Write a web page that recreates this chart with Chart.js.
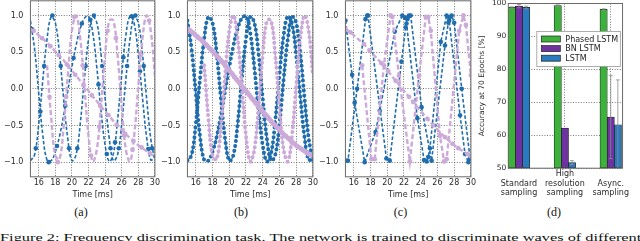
<!DOCTYPE html>
<html>
<head>
<meta charset="utf-8">
<script src="https://cdn.jsdelivr.net/npm/chart.js@4"></script>
<style>
  html, body { margin: 0; padding: 0; background: #fff; }
  body { width: 640px; height: 241px; position: relative; overflow: hidden; }
  canvas { position: absolute; }
  .sub { position: absolute; top: 206px; width: 40px; margin-left: -20px; text-align: center;
         font: 12px/1 "Liberation Serif", serif; color: #111; }
  #caption { position: absolute; left: 0; top: 232px; white-space: nowrap;
             font: 11px/1 "Liberation Serif", serif; color: #111; transform-origin: 0 0; }
</style>
</head>
<body>
<canvas id="cA"></canvas>
<canvas id="cB"></canvas>
<canvas id="cC"></canvas>
<canvas id="cD"></canvas>
<div class="sub" style="left:81px">(a)</div>
<div class="sub" style="left:241px">(b)</div>
<div class="sub" style="left:400.5px">(c)</div>
<div class="sub" style="left:554px">(d)</div>
<div id="caption">Figure 2: Frequency discrimination task. The network is trained to discriminate waves of different</div>
<script>
// ---- wave traces (time in ms, amplitude) ----
const curveT = [15, 15.5, 16, 16.5, 17, 17.5, 18, 18.5, 19, 19.5, 20, 20.5, 21, 21.5, 22, 22.5,
                23, 23.5, 24, 24.5, 25, 25.5, 26, 26.5, 27, 27.5, 28, 28.5, 29, 29.5, 30];
const blueA = [-0.98, -0.90, -0.48, 0.13, 0.68, 0.98, 0.90, 0.48, -0.13, -0.68, -0.98, -0.90, -0.48, 0.13, 0.68, 0.98,
               0.90, 0.48, -0.13, -0.68, -0.98, -0.90, -0.48, 0.13, 0.68, 0.98, 0.90, 0.48, -0.13, -0.68, -0.98];
const blueB = [0.93, 0.54, -0.06, -0.64, -0.97, -0.98, -0.86, -0.65, -0.36, -0.03, 0.30, 0.59, 0.82, 0.96, 0.99, 0.77,
               0.29, -0.29, -0.77, -0.99, -0.88, -0.43, 0.19, 0.73, 0.99, 0.89, 0.46, -0.12, -0.66, -0.97, -0.93];
const lilacFast = [null, null, null, null, 0.32, -0.39, -0.91, -0.96, -0.52, 0.18, 0.79, 1.00, 0.69, 0.04, -0.64, -0.99,
                   -0.83, -0.25, 0.46, 0.93, 0.93, 0.46, -0.25, -0.83, -0.99, -0.64, 0.04, 0.69, 1.00, 0.79, 0.18];
const lilacSlow = [0.82, 0.78, 0.73, 0.68, 0.63, 0.57, 0.51, 0.45, 0.39, 0.32, 0.25, 0.18, 0.11, 0.04, -0.03, -0.10,
                   -0.17, -0.24, -0.31, -0.37, -0.44, -0.50, -0.56, -0.62, -0.67, -0.72, -0.77, -0.81, -0.85, -0.89, -0.92];

// (a) samples every 1 ms
const aBlueAT = [15.65, 16.65, 17.65, 18.65, 19.65, 20.65, 21.65, 22.65, 23.65, 24.65, 25.65, 26.65, 27.65, 28.65, 29.65];
const aBlueAV = [-0.81, 0.31, 1.00, 0.31, -0.81, -0.81, 0.31, 1.00, 0.31, -0.81, -0.81, 0.31, 1.00, 0.31, -0.81];
const aBlueBT = [15.2, 16.2, 17.2, 18.2, 19.2, 20.2, 21.2, 22.2, 23.2, 24.2, 25.2, 26.2, 27.2, 28.2, 29.2];
const aBlueBV = [0.81, -0.31, -1.00, -0.78, -0.23, 0.42, 0.89, 0.94, 0.06, -0.89, -0.73, 0.43, 0.99, 0.24, -0.82];
const aLilacFastT = [17.3, 18.3, 19.3, 20.3, 21.3, 22.3, 23.3, 24.3, 25.3, 26.3, 27.3, 28.3, 29.3];
const aLilacFastV = [-0.11, -1.00, -0.11, 0.98, 0.32, -0.91, -0.52, 0.79, 0.69, -0.64, -0.83, 0.46, 0.93];
const aLilacSlowT = [15.4, 16.4, 17.4, 18.4, 19.4, 20.4, 21.4, 22.4, 23.4, 24.4, 25.4, 26.4, 27.4, 28.4, 29.4];
const aLilacSlowV = [0.79, 0.69, 0.58, 0.46, 0.33, 0.19, 0.05, -0.09, -0.23, -0.36, -0.49, -0.61, -0.71, -0.80, -0.88];

// (c) asynchronous samples
const cBlueAT = [15.0, 15.3, 16.4, 17.4, 17.6, 17.7, 19.9, 20.3, 21.7, 22.2, 22.4, 22.5, 22.6, 22.8, 24.1, 25.3, 26.9, 27.3, 27.5, 27.7, 28.0, 28.9, 29.9];
const cBlueAV = [-0.98, -0.98, 0.00, 0.95, 1.00, 1.00, -0.95, -0.98, 0.37, 0.84, 0.95, 0.98, 1.00, 1.00, -0.25, -0.98, 0.59, 0.90, 0.98, 1.00, 0.90, 0.00, -0.95];
const cBlueBT = [15.0, 15.8, 16.1, 17.3, 18.6, 19.1, 20.9, 21.8, 22.1, 22.3, 23.6, 24.4, 24.7, 24.9, 25.1, 26.4, 27.1, 27.4, 28.7, 29.3, 29.7, 30.0];
const cBlueBV = [0.93, 0.19, -0.19, -1.00, -0.59, -0.30, 0.78, 1.00, 0.97, 0.89, -0.40, -0.97, -0.99, -0.93, -0.81, 0.64, 1.00, 0.93, -0.36, -0.89, -1.00, -0.93];
const cLilacFastT = [17.0, 18.1, 18.5, 19.6, 20.4, 20.6, 21.4, 22.7, 23.8, 24.6, 24.9, 25.2, 26.3, 26.8, 27.1, 28.6, 29.1, 29.4, 30.0];
const cLilacFastV = [0.32, -0.96, -0.96, 0.32, 1.00, 0.98, 0.18, -0.99, 0.18, 0.98, 0.98, 0.79, -0.64, -0.99, -0.96, 0.79, 1.00, 0.87, 0.18];
const cLilacSlowT = [15.0, 15.6, 17.2, 17.9, 19.3, 20.1, 21.0, 22.6, 23.1, 24.8, 25.5, 26.9, 27.8, 28.5, 29.6, 30.0];
const cLilacSlowV = [0.82, 0.77, 0.61, 0.52, 0.35, 0.24, 0.11, -0.11, -0.18, -0.41, -0.50, -0.66, -0.75, -0.81, -0.89, -0.92];

const timeTicks = [16, 18, 20, 22, 24, 26, 28, 30];
const timeTickText = ['16', '18', '20', '22', '24', '26', '28', '30'];
const ampTicks = [-1, -0.5, 0, 0.5, 1];
const ampTickText = ['\u22121.0', '\u22120.5', '0.0', '0.5', '1.0'];

// ---- (d) accuracy at 70 epochs ----
const groupLabels = [['', 'Standard', 'sampling'], ['High', 'resolution', 'sampling'], ['', 'Async.', 'sampling']];
const modelNames = ['Phased LSTM', 'BN LSTM', 'LSTM'];
const phasedAcc = [98.8, 99.4, 98.2];
const phasedErr = [0.2, 0.2, 0.2];
const bnAcc = [99.2, 62.2, 65.5];
const bnErr = [0.5, 0.0, 12.6];
const lstmAcc = [98.8, 51.7, 63.2];
const lstmErr = [0.4, 0.6, 13.6];
const accTicks = [50, 60, 70, 80, 90, 100];

const BLUE = '#1f6dad', LILAC = '#cbaad9';
const GREEN = '#3cb23c', PURPLE = '#6e33a0', LBLUE = '#2a7abf';

Chart.defaults.font.family = '"DejaVu Sans", sans-serif';
Chart.defaults.font.size = 8;
Chart.defaults.color = '#2a2a2a';
Chart.defaults.animation = false;
Chart.defaults.events = [];
Chart.defaults.plugins.legend.display = false;
Chart.defaults.plugins.tooltip.enabled = false;

const pts = (ts, vs) => ts.map((t, i) => ({ x: t, y: vs[i] }));

const frame = {
  id: 'frame',
  afterDraw(c) {
    const { ctx, chartArea: a } = c;
    ctx.save();
    ctx.strokeStyle = '#6a6a6a';
    ctx.lineWidth = 1;
    ctx.strokeRect(a.left, a.top, a.right - a.left, a.bottom - a.top);
    ctx.restore();
  }
};

function waveScales() {
  const grid = { color: '#555', lineWidth: 0.8, drawTicks: false };
  return {
    x: {
      type: 'linear', min: 15, max: 30, offset: false,
      afterBuildTicks: s => { s.ticks = timeTicks.map(v => ({ value: v })); },
      ticks: { callback: (v, i) => timeTickText[i], padding: 1, autoSkip: false, maxRotation: 0, minRotation: 0 },
      grid, border: { display: false, dash: [1, 1.6] },
      title: { display: true, text: 'Time [ms]', padding: { top: 2, bottom: 0 } }
    },
    y: {
      type: 'linear', min: -1.2, max: 1.2,
      afterBuildTicks: s => { s.ticks = ampTicks.map(v => ({ value: v })); },
      ticks: { callback: (v, i) => ampTickText[i], padding: 7, autoSkip: false },
      grid, border: { display: false, dash: [1, 1.6] }
    }
  };
}

const dashed = (data, color, w, dash, tension) => ({
  data, borderColor: color, borderWidth: w, borderDash: dash, pointRadius: 0, tension, fill: false
});
const dots = (data, color, r) => ({
  data, showLine: false, pointRadius: r, pointBackgroundColor: color, pointBorderWidth: 0, borderColor: color
});
const beads = (data, color, w, gap) => ({
  data, borderColor: color, borderWidth: w, borderDash: [0, gap], borderCapStyle: 'round',
  pointRadius: 0, tension: 0.4, fill: false
});

function place(id, config, box) {
  const cv = document.getElementById(id);
  cv.width = box.w + 60; cv.height = box.h + 60;
  let chart = new Chart(cv, config);
  let ca = chart.chartArea;
  const w = Math.round(cv.width + box.w - (ca.right - ca.left));
  const h = Math.round(cv.height + box.h - (ca.bottom - ca.top));
  chart.destroy();
  cv.width = w; cv.height = h;
  chart = new Chart(cv, config);
  ca = chart.chartArea;
  cv.style.left = (box.x - ca.left) + 'px';
  cv.style.top = (box.y - ca.top) + 'px';
  return chart;
}

// (a) regular sampling
place('cA', {
  type: 'line',
  data: { datasets: [
    dots(pts(aLilacSlowT, aLilacSlowV), LILAC, 2.4),
    dots(pts(aLilacFastT, aLilacFastV), LILAC, 2.4),
    dashed(pts(curveT, lilacSlow), LILAC, 2.4, [5, 2.5], 0.4),
    dashed(pts(curveT, lilacFast), LILAC, 2.4, [5, 2.5], 0.4),
    dots(pts(aBlueAT, aBlueAV), BLUE, 2.3),
    dots(pts(aBlueBT, aBlueBV), BLUE, 2.3),
    dashed(pts(curveT, blueA), BLUE, 1.6, [3.5, 2], 0.4),
    dashed(pts(curveT, blueB), BLUE, 1.6, [3.5, 2], 0.4)
  ] },
  options: { responsive: false, maintainAspectRatio: false, scales: waveScales() },
  plugins: [frame]
}, { x: 30.7, y: 0.5, w: 124.5, h: 175.5 });

// (b) high resolution sampling
place('cB', {
  type: 'line',
  data: { datasets: [
    beads(pts(curveT, lilacSlow), LILAC, 5, 2.4),
    beads(pts(curveT, lilacFast), LILAC, 4, 5),
    dashed(pts(curveT, lilacFast), LILAC, 1.4, [4, 2], 0.4),
    beads(pts(curveT, blueA), BLUE, 4, 5),
    beads(pts(curveT, blueB), BLUE, 4, 5),
    dashed(pts(curveT, blueA), BLUE, 1.4, [3.5, 2], 0.4),
    dashed(pts(curveT, blueB), BLUE, 1.4, [3.5, 2], 0.4)
  ] },
  options: { responsive: false, maintainAspectRatio: false, scales: waveScales() },
  plugins: [frame]
}, { x: 187.7, y: 0.5, w: 125, h: 175.5 });

// (c) asynchronous sampling
const asyncLine = (data, color, w, dash, r) => ({
  data, borderColor: color, borderWidth: w, borderDash: dash, tension: 0, fill: false,
  pointRadius: r, pointBackgroundColor: color, pointBorderWidth: 0
});
place('cC', {
  type: 'line',
  data: { datasets: [
    asyncLine(pts(cLilacSlowT, cLilacSlowV), LILAC, 2.4, [5, 2.5], 2.4),
    asyncLine(pts(cLilacFastT, cLilacFastV), LILAC, 2.4, [5, 2.5], 2.4),
    asyncLine(pts(cBlueAT, cBlueAV), BLUE, 1.6, [3.5, 2], 2.3),
    asyncLine(pts(cBlueBT, cBlueBV), BLUE, 1.6, [3.5, 2], 2.3)
  ] },
  options: { responsive: false, maintainAspectRatio: false, scales: waveScales() },
  plugins: [frame]
}, { x: 345.7, y: 0.5, w: 125, h: 175.5 });

// (d) bar chart
const barOffset = [0.0775, 0.2325, 0.3875];
const barSets = [
  { vals: phasedAcc, err: phasedErr, color: GREEN },
  { vals: bnAcc, err: bnErr, color: PURPLE },
  { vals: lstmAcc, err: lstmErr, color: LBLUE }
];

const errorBars = {
  id: 'errorBars',
  afterDatasetsDraw(c) {
    const { ctx, chartArea: a, scales: { x, y } } = c;
    ctx.save();
    ctx.beginPath();
    ctx.rect(a.left, a.top, a.right - a.left, a.bottom - a.top);
    ctx.clip();
    ctx.strokeStyle = '#8c8c8c';
    ctx.lineWidth = 0.8;
    c.data.datasets.forEach(ds => {
      ds.data.forEach((p, i) => {
        const e = ds.errs[i];
        if (!e) return;
        const px = x.getPixelForValue(p.x);
        const t = y.getPixelForValue(p.y + e), b = y.getPixelForValue(p.y - e);
        ctx.beginPath();
        ctx.moveTo(px, t); ctx.lineTo(px, b);
        ctx.moveTo(px - 2, t); ctx.lineTo(px + 2, t);
        ctx.moveTo(px - 2, b); ctx.lineTo(px + 2, b);
        ctx.stroke();
      });
    });
    ctx.restore();
  }
};

const legendBox = {
  id: 'legendBox',
  afterDraw(c) {
    const { ctx, chartArea: a } = c;
    const bx = a.left + 28.5, by = a.top + 28, bw = 83.5, bh = 35;
    ctx.save();
    ctx.fillStyle = '#fff';
    ctx.fillRect(bx, by, bw, bh);
    ctx.strokeStyle = '#999';
    ctx.lineWidth = 0.8;
    ctx.strokeRect(bx, by, bw, bh);
    ctx.font = '8px "DejaVu Sans", sans-serif';
    ctx.textBaseline = 'middle';
    c.data.datasets.forEach((ds, k) => {
      const ry = by + 7.5 + k * 9.6;
      ctx.fillStyle = ds.backgroundColor;
      ctx.fillRect(bx + 4.5, ry - 3, 19, 6);
      ctx.strokeStyle = '#222';
      ctx.lineWidth = 0.7;
      ctx.strokeRect(bx + 4.5, ry - 3, 19, 6);
      ctx.fillStyle = '#222';
      ctx.fillText(ds.label, bx + 28.5, ry + 0.5);
    });
    ctx.restore();
  }
};

place('cD', {
  type: 'bar',
  data: { datasets: barSets.map((s, k) => ({
    label: modelNames[k],
    data: s.vals.map((v, i) => ({ x: i + barOffset[k], y: v })),
    errs: s.err,
    backgroundColor: s.color, borderColor: '#222', borderWidth: 0.7, borderSkipped: false,
    barThickness: 7.3, grouped: false, base: 50
  })) },
  options: {
    responsive: false, maintainAspectRatio: false,
    scales: {
      x: {
        type: 'linear', min: 0, max: 2.49, offset: false,
        afterBuildTicks: s => { s.ticks = groupLabels.map((l, i) => ({ value: i + barOffset[1] })); },
        ticks: { callback: (v, i) => groupLabels[i], padding: 1, autoSkip: false, maxRotation: 0, minRotation: 0 },
        grid: { color: '#555', lineWidth: 0.8, drawTicks: false, offset: false },
        border: { display: false, dash: [1, 1.6] }
      },
      y: {
        type: 'linear', min: 50, max: 100,
        afterBuildTicks: s => { s.ticks = accTicks.map(v => ({ value: v })); },
        ticks: { padding: 2, autoSkip: false, font: { size: 7.5 } },
        grid: { color: '#555', lineWidth: 0.8, drawTicks: false },
        border: { display: false, dash: [1, 1.6] },
        title: { display: true, text: 'Accuracy at 70 Epochs [%]', font: { size: 7.5 }, padding: { top: 0, bottom: 3 } }
      }
    }
  },
  plugins: [errorBars, legendBox, frame]
}, { x: 508.2, y: 3.8, w: 117.5, h: 164.5 });

// caption spans the full page width
const cap = document.getElementById('caption');
cap.style.transform = 'scaleX(' + (642 / cap.offsetWidth) + ')';
</script>
</body>
</html>
